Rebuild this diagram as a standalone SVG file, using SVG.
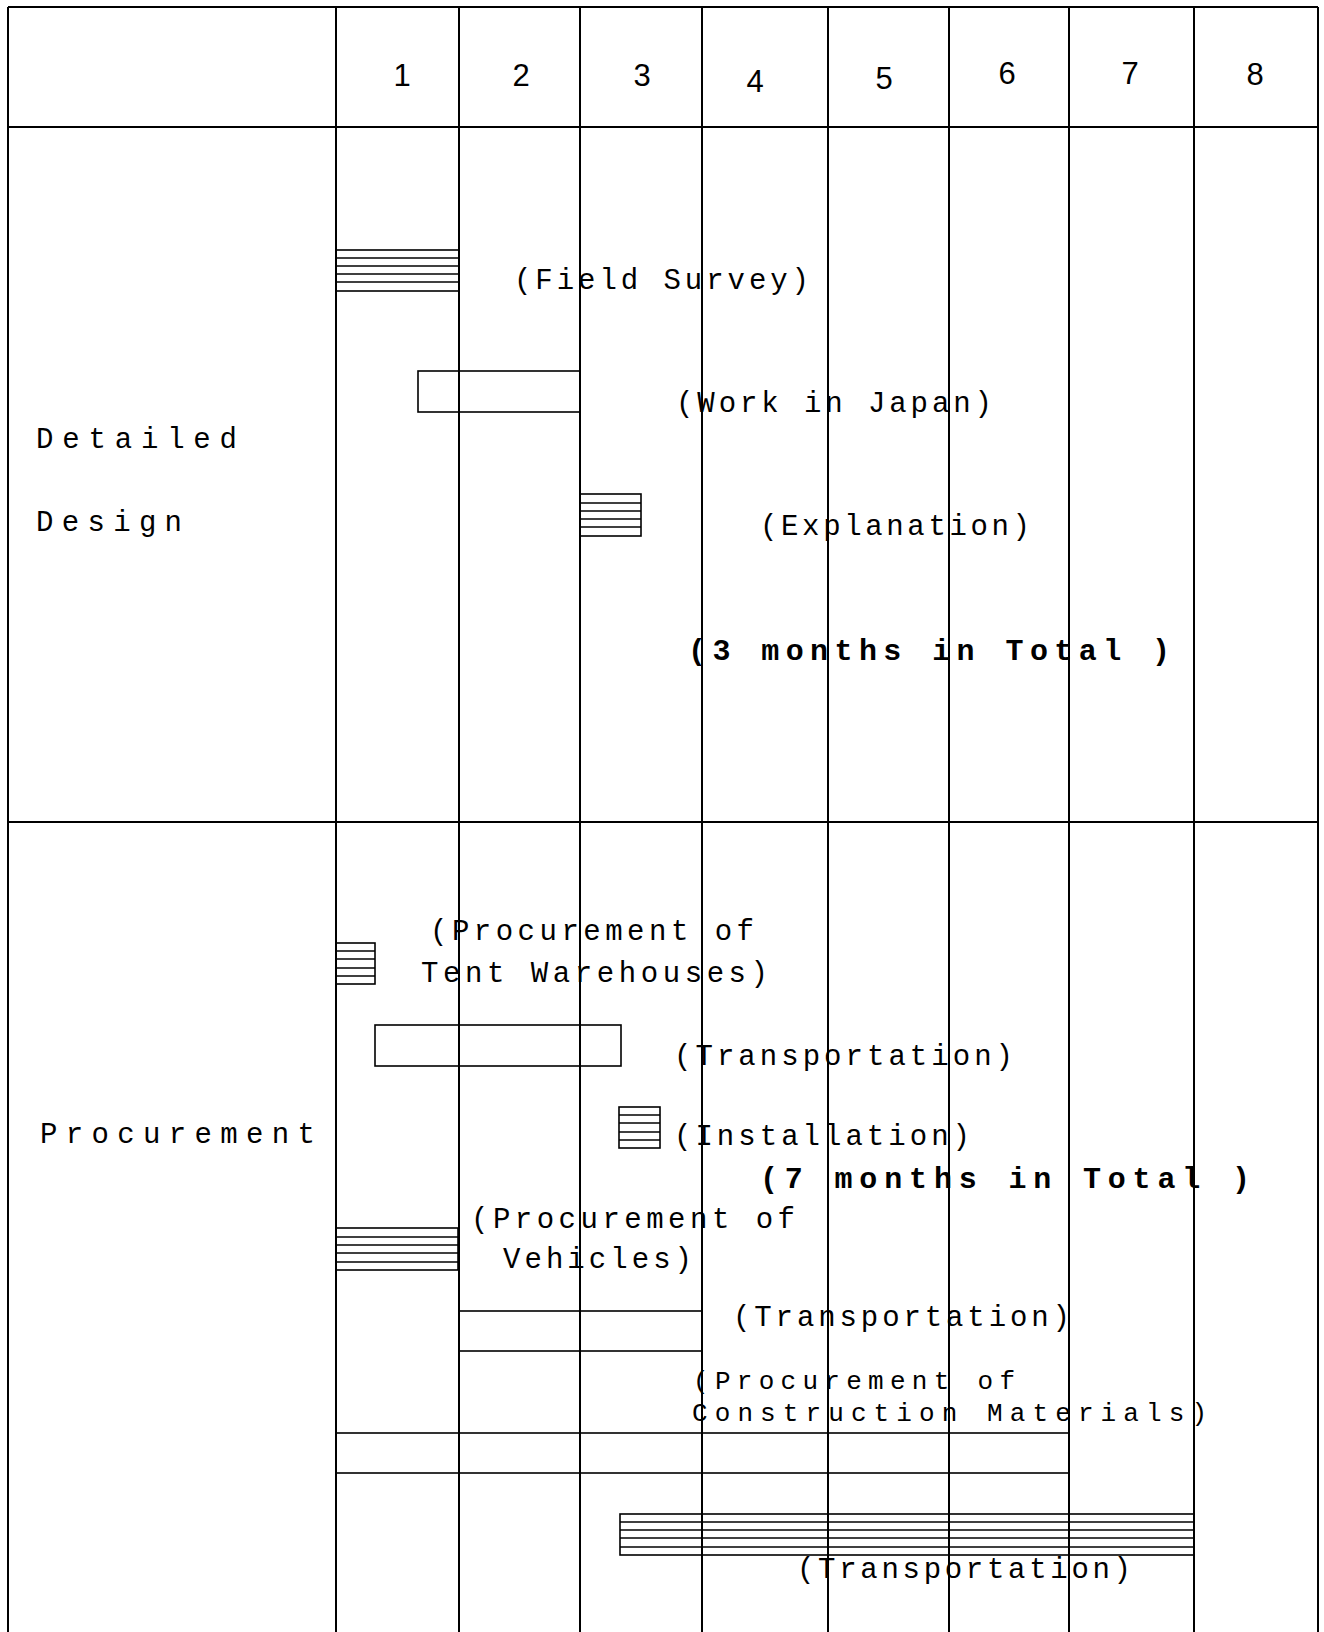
<svg xmlns="http://www.w3.org/2000/svg" width="1324" height="1632" viewBox="0 0 1324 1632">
<style>
.bg{fill:#fff}
.grid line{stroke:#000;stroke-width:2;fill:none}
.bar rect{fill:none;stroke:#000;stroke-width:1.6}
.bar line{stroke:#000;stroke-width:1.4}
.num{font-family:"Liberation Sans",Arial,sans-serif;font-size:31px;text-anchor:middle;fill:#000}
.lbl{font-family:"Liberation Mono","Courier New",monospace;font-size:29px;fill:#000}
.tight{font-size:26px}
.big{font-family:"Liberation Mono","Courier New",monospace;font-size:30px;font-weight:bold;fill:#000}
</style>
<rect class="bg" x="0" y="0" width="1324" height="1632"/>

<g id="grid" class="grid">
  <line x1="8" y1="7" x2="1318" y2="7"/>
  <line x1="8" y1="7" x2="8" y2="1632"/>
  <line x1="1318" y1="7" x2="1318" y2="1632"/>
  <line x1="8" y1="127" x2="1318" y2="127"/>
  <line x1="8" y1="822" x2="1318" y2="822"/>
  <line x1="336" y1="7" x2="336" y2="1632"/>
  <line x1="459" y1="7" x2="459" y2="1632"/>
  <line x1="580" y1="7" x2="580" y2="1632"/>
  <line x1="702" y1="7" x2="702" y2="1632"/>
  <line x1="828" y1="7" x2="828" y2="1632"/>
  <line x1="949" y1="7" x2="949" y2="1632"/>
  <line x1="1069" y1="7" x2="1069" y2="1632"/>
  <line x1="1194" y1="7" x2="1194" y2="1632"/>
</g>

<g id="header">
  <text class="num" x="402" y="86">1</text>
  <text class="num" x="521" y="86">2</text>
  <text class="num" x="642" y="86">3</text>
  <text class="num" x="755" y="92">4</text>
  <text class="num" x="884" y="89">5</text>
  <text class="num" x="1007" y="84">6</text>
  <text class="num" x="1130" y="84">7</text>
  <text class="num" x="1255" y="85">8</text>
</g>

<g id="label-detailed-design">
  <text class="lbl" x="36" y="448" textLength="201" lengthAdjust="spacing">Detailed</text>
  <text class="lbl" x="36" y="531" textLength="146" lengthAdjust="spacing">Design</text>
</g>

<g id="label-procurement">
  <text class="lbl" x="40" y="1143" textLength="275" lengthAdjust="spacing">Procurement</text>
</g>

<g id="field-survey" class="bar">
  <rect x="336" y="250" width="123" height="41"/>
  <line x1="336" y1="258" x2="459" y2="258"/>
  <line x1="336" y1="266" x2="459" y2="266"/>
  <line x1="336" y1="274" x2="459" y2="274"/>
  <line x1="336" y1="282" x2="459" y2="282"/>
  <text class="lbl" x="514" y="289" textLength="295" lengthAdjust="spacing">(Field Survey)</text>
</g>

<g id="work-in-japan" class="bar">
  <rect x="418" y="371" width="162" height="41"/>
  <text class="lbl" x="676" y="412" textLength="316" lengthAdjust="spacing">(Work in Japan)</text>
</g>

<g id="explanation" class="bar">
  <rect x="580" y="494" width="61" height="42"/>
  <line x1="580" y1="503" x2="641" y2="503"/>
  <line x1="580" y1="511" x2="641" y2="511"/>
  <line x1="580" y1="519" x2="641" y2="519"/>
  <line x1="580" y1="527" x2="641" y2="527"/>
  <text class="lbl" x="760" y="535" textLength="270" lengthAdjust="spacing">(Explanation)</text>
</g>

<g id="total-3-months">
  <text class="big" x="688" y="660" textLength="482" lengthAdjust="spacing">(3 months in Total )</text>
</g>

<g id="tent-warehouses" class="bar">
  <rect x="336" y="943" width="39" height="41"/>
  <line x1="336" y1="951" x2="375" y2="951"/>
  <line x1="336" y1="959" x2="375" y2="959"/>
  <line x1="336" y1="968" x2="375" y2="968"/>
  <line x1="336" y1="976" x2="375" y2="976"/>
  <text class="lbl" x="430" y="940" textLength="324" lengthAdjust="spacing">(Procurement of</text>
  <text class="lbl" x="421" y="982" textLength="347" lengthAdjust="spacing">Tent Warehouses)</text>
</g>

<g id="tent-transportation" class="bar">
  <rect x="375" y="1025" width="246" height="41"/>
  <text class="lbl" x="674" y="1065" textLength="339" lengthAdjust="spacing">(Transportation)</text>
</g>

<g id="installation" class="bar">
  <rect x="619" y="1107" width="41" height="41"/>
  <line x1="619" y1="1115" x2="660" y2="1115"/>
  <line x1="619" y1="1123" x2="660" y2="1123"/>
  <line x1="619" y1="1132" x2="660" y2="1132"/>
  <line x1="619" y1="1140" x2="660" y2="1140"/>
  <text class="lbl" x="674" y="1145" textLength="296" lengthAdjust="spacing">(Installation)</text>
</g>

<g id="total-7-months">
  <text class="big" x="760" y="1188" textLength="490" lengthAdjust="spacing">(7 months in Total )</text>
</g>

<g id="vehicles" class="bar">
  <rect x="336" y="1228" width="122" height="42"/>
  <line x1="336" y1="1237" x2="458" y2="1237"/>
  <line x1="336" y1="1245" x2="458" y2="1245"/>
  <line x1="336" y1="1253" x2="458" y2="1253"/>
  <line x1="336" y1="1262" x2="458" y2="1262"/>
  <text class="lbl" x="471" y="1228" textLength="324" lengthAdjust="spacing">(Procurement of</text>
  <text class="lbl" x="503" y="1268" textLength="189" lengthAdjust="spacing">Vehicles)</text>
</g>

<g id="vehicles-transportation" class="bar">
  <rect x="459" y="1311" width="243" height="40"/>
  <text class="lbl" x="733" y="1326" textLength="337" lengthAdjust="spacing">(Transportation)</text>
</g>

<g id="construction-materials" class="bar">
  <rect x="336" y="1433" width="733" height="40"/>
  <text class="lbl tight" x="693" y="1389" textLength="322" lengthAdjust="spacing">(Procurement of</text>
  <text class="lbl tight" x="692" y="1421" textLength="515" lengthAdjust="spacing">Construction Materials)</text>
</g>

<g id="materials-transportation" class="bar">
  <rect x="620" y="1514" width="574" height="41"/>
  <line x1="620" y1="1522" x2="1194" y2="1522"/>
  <line x1="620" y1="1530" x2="1194" y2="1530"/>
  <line x1="620" y1="1538" x2="1194" y2="1538"/>
  <line x1="620" y1="1547" x2="1194" y2="1547"/>
  <text class="lbl" x="797" y="1578" textLength="334" lengthAdjust="spacing">(Transportation)</text>
</g>
</svg>
